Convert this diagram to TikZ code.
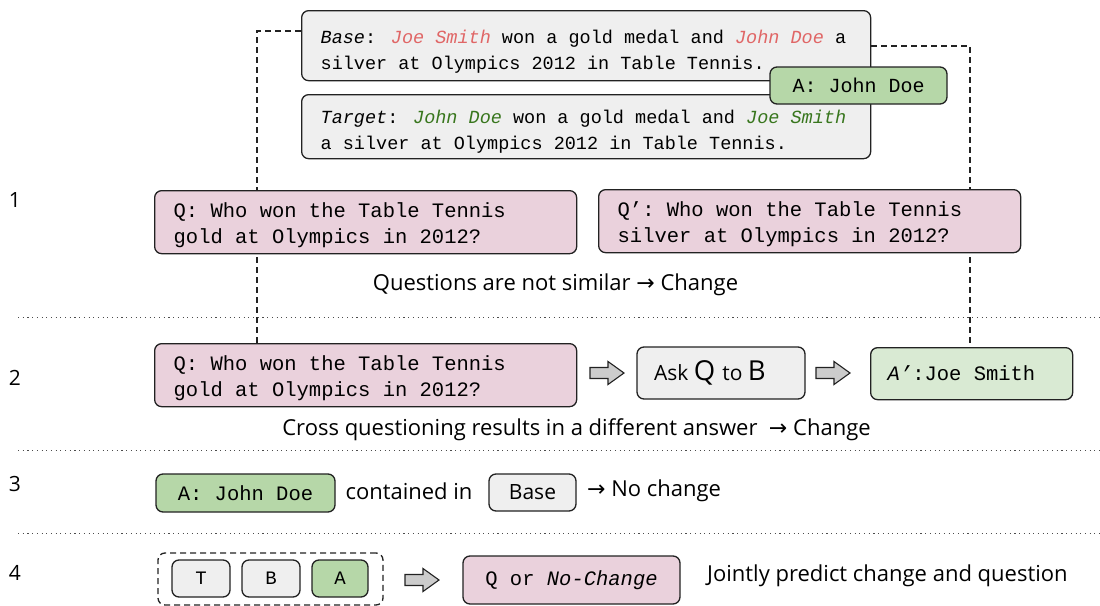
\documentclass[tikz,border=0pt]{standalone}
\usepackage{fontspec}
\setmainfont{Open Sans}
\newfontfamily\monof{Liberation Mono}
\newfontfamily\arrowfont{DejaVu Sans}
\usetikzlibrary{backgrounds}
\definecolor{pinkfill}{HTML}{EAD1DC}
\definecolor{grayfill}{HTML}{EFEFEF}
\definecolor{greenfill}{HTML}{B6D7A8}
\definecolor{lgreenfill}{HTML}{D9EAD3}
\definecolor{redtxt}{HTML}{E06666}
\definecolor{greentxt}{HTML}{38761D}
\definecolor{boxline}{HTML}{222222}
\definecolor{arrowfill}{HTML}{CCCCCC}
\newcommand{\arr}{{\arrowfont →}}
\tikzset{
  every node/.append style={execute at begin node={\spaceskip=0pt\xspaceskip=0pt}},
  box/.style={draw=boxline, line width=1.3pt, rounded corners=7pt, inner sep=0pt},
  ctxbox/.style={box, fill=grayfill, anchor=north west, inner xsep=19pt, text width=531pt, align=left, minimum height=#1,
    font=\monof\fontsize{18.5}{26}\selectfont},
  qbox/.style={box, fill=pinkfill, anchor=north west, inner xsep=19pt, text width=384pt, align=left, minimum height=63pt,
    font=\monof\fontsize{20.5}{26}\selectfont, text height=21pt},
  lbl/.style={inner sep=0pt, font=\fontsize{22}{26}\selectfont},
  numlbl/.style={inner sep=0pt, font=\fontsize{21}{24}\selectfont},
  sep/.style={draw=black!70, line width=1.1pt, dash pattern=on 1.1pt off 3.6pt},
  conn/.style={draw=boxline, line width=1.8pt, dash pattern=on 6pt off 4pt},
  blockarr/.pic={\draw[fill=arrowfill, draw=boxline, line width=1.1pt, line join=miter]
    (0,-5.5)--(18,-5.5)--(18,-11.5)--(34,0)--(18,11.5)--(18,5.5)--(0,5.5)--cycle;}
}
\begin{document}
\begin{tikzpicture}[x=1pt,y=-1pt]
\useasboundingbox (0,0) rectangle (1100,605);

% top context boxes
\node[ctxbox=70pt, text height=26pt] (base) at (301,10) {\textit{Base}: \textcolor{redtxt}{\textit{Joe Smith}} won a gold medal and \textcolor{redtxt}{\textit{John Doe}} a\\silver at Olympics 2012 in Table Tennis.};
\node[ctxbox=64pt, text height=24pt] (target) at (301,94) {\textit{Target}: \textcolor{greentxt}{\textit{John Doe}} won a gold medal and \textcolor{greentxt}{\textit{Joe Smith}}\\a silver at Olympics 2012 in Table Tennis.};
\node[box, fill=greenfill, minimum width=177pt, minimum height=37pt, font=\monof\fontsize{20}{24}\selectfont] (atop) at (858.5,85.5) {A: John Doe};

% row numbers
\node[numlbl] (n1) at (15,200) {1};
\node[numlbl] (n2) at (15,378) {2};
\node[numlbl] (n3) at (15,484) {3};
\node[numlbl] (n4) at (15,573) {4};

% row 1
\node[qbox] (q1) at (154,190) {Q: Who won the Table Tennis\\gold at Olympics in 2012?};
\node[qbox] (qp) at (598,189) {Q’: Who won the Table Tennis\\silver at Olympics in 2012?};
\node[lbl] (t1) at (555.5,285) {Questions are not similar \arr\ Change};

% separators
\coordinate (s1a) at (18,317.5); \coordinate (s1b) at (1100,317.5);
\coordinate (s2a) at (18,450.5); \coordinate (s2b) at (1100,450.5);
\coordinate (s3a) at (18,533.5); \coordinate (s3b) at (1100,533.5);
\draw[sep] (s1a) -- (s1b);
\draw[sep] (s2a) -- (s2b);
\draw[sep] (s3a) -- (s3b);

% row 2
\node[qbox] (q2) at (154,343) {Q: Who won the Table Tennis\\gold at Olympics in 2012?};
\node[box, fill=grayfill, minimum width=168pt, minimum height=52pt, text width=150pt, align=left, inner xsep=9pt] (ask) at (721,373)
  {\hspace{8pt}\fontsize{21}{24}\selectfont Ask \fontsize{27.5}{28}\selectfont Q \fontsize{21}{24}\selectfont to \fontsize{27.5}{28}\selectfont B};
\node[box, fill=lgreenfill, anchor=north west, minimum height=52pt, inner xsep=17pt, text width=168pt, align=left,
  font=\monof\fontsize{20.5}{24}\selectfont] (ap) at (870,347) {\textit{A’}:Joe Smith};
\pic at (590,373) {blockarr};
\pic at (816,373) {blockarr};
\node[lbl] (t2) at (576.5,430) {Cross questioning results in a different answer \ \arr\ Change};

% row 3
\node[box, fill=greenfill, minimum width=179pt, minimum height=38pt, font=\monof\fontsize{20.5}{24}\selectfont] (a3) at (245.5,493) {A: John Doe};
\node[lbl] (c3) at (409,491) {contained in};
\node[box, fill=grayfill, minimum width=87pt, minimum height=37pt, font=\fontsize{21}{24}\selectfont] (b3) at (532.5,492.5) {Base};
\node[lbl, anchor=west] (nc) at (587,491) {\arr\ No change};

% row 4
\node[box, draw=boxline, dash pattern=on 6pt off 4pt, minimum width=225pt, minimum height=52pt] (grp) at (270.5,579) {};
\node[box, fill=grayfill, minimum width=58pt, minimum height=37pt, font=\monof\fontsize{19}{24}\selectfont] (tb) at (201,578.5) {T};
\node[box, fill=grayfill, minimum width=58pt, minimum height=37pt, font=\monof\fontsize{19}{24}\selectfont] (bb) at (271,578.5) {B};
\node[box, fill=greenfill, minimum width=56pt, minimum height=37pt, font=\monof\fontsize{19}{24}\selectfont] (ab) at (340,578.5) {A};
\pic at (405,580) {blockarr};
\node[box, fill=pinkfill, minimum width=217pt, minimum height=48pt, font=\monof\fontsize{20.5}{24}\selectfont] (qn) at (571.5,580) {Q or \textit{No-Change}};
\node[lbl, anchor=west] (t4) at (707,576) {Jointly predict change and question};

% dashed connectors (behind boxes)
\coordinate (lc) at (257,31);
\coordinate (rc) at (970,46);
\begin{pgfonlayer}{background}
\draw[conn] (base.west |- lc) -- (lc) -- (lc |- q2.north);
\draw[conn] (base.east |- rc) -- (rc) -- (rc |- ap.north);
\end{pgfonlayer}
\end{tikzpicture}
\end{document}
